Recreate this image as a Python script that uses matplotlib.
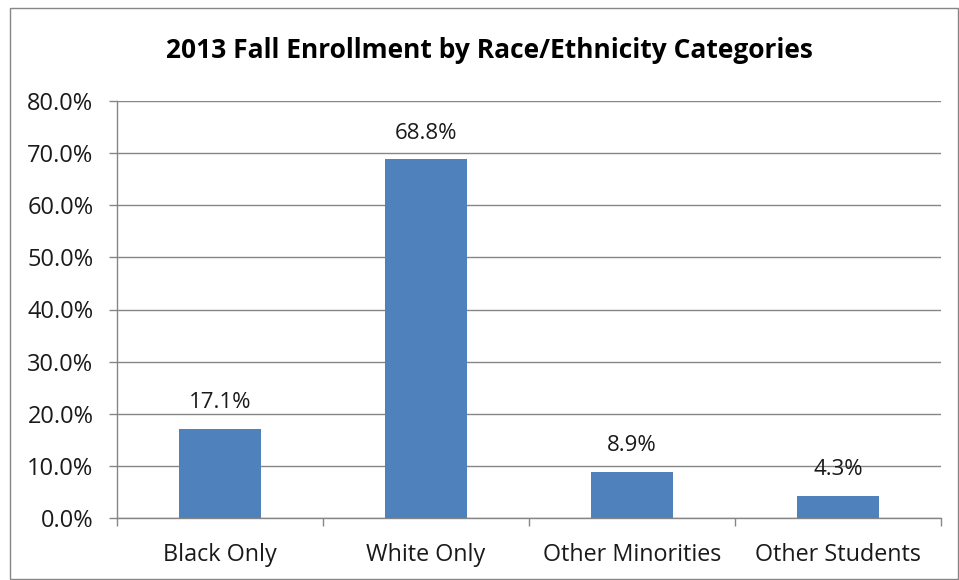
import matplotlib
matplotlib.use("Agg")
import matplotlib.pyplot as plt
from matplotlib.patches import Rectangle
from matplotlib.ticker import FuncFormatter, MultipleLocator

categories = ["Black Only", "White Only", "Other Minorities", "Other Students"]
values = [17.1, 68.8, 8.9, 4.3]
title = "2013 Fall Enrollment by Race/Ethnicity Categories"

plt.rcParams['font.family'] = ['Open Sans', 'DejaVu Sans']

W, H = 959, 580
fig = plt.figure(figsize=(W / 100, H / 100), dpi=100)
fig.patch.set_facecolor("white")

# outer chart border
fig.add_artist(Rectangle((10 / W, 1 - 579 / H), (958 - 10) / W, (579 - 8) / H,
                         transform=fig.transFigure, fill=False,
                         edgecolor="#868686", linewidth=1.0))

left, right, top, bottom = 117, 941, 101, 518
ax = fig.add_axes([left / W, 1 - bottom / H, (right - left) / W, (bottom - top) / H])

x = range(len(categories))
ax.bar(x, values, width=0.4, color="#4F81BD", zorder=3)
for xi, v in zip(x, values):
    ax.text(xi, v + 3.0, f"{v:.1f}%", ha="center", va="bottom", fontsize=16, color="#1a1a1a")

ax.set_xlim(-0.5, len(categories) - 0.5)
ax.set_ylim(0, 80)
ax.yaxis.set_major_locator(MultipleLocator(10))
ax.yaxis.set_major_formatter(FuncFormatter(lambda v, p: f"{v:.1f}%"))
ax.grid(axis="y", color="#868686", linewidth=1.0, zorder=0)

ax.set_xticks(list(x))
ax.set_xticklabels(categories, fontsize=16.8, color="#1a1a1a")
ax.set_xticks([i - 0.5 for i in range(len(categories) + 1)], minor=True)
ax.tick_params(axis="x", which="major", length=0, pad=18)
ax.tick_params(axis="x", which="minor", length=6, color="#868686", width=1.0)
ax.tick_params(axis="y", length=6, color="#868686", width=1.0, labelsize=17,
               labelcolor="#1a1a1a", pad=11)

for s in ["top", "right"]:
    ax.spines[s].set_visible(False)
for s in ["left", "bottom"]:
    ax.spines[s].set_color("#868686")
    ax.spines[s].set_linewidth(1.0)

fig.text(489 / W, 1 - 50 / H, title, ha="center", va="center",
         fontsize=19, fontweight="bold", color="black")

fig.savefig("out.png", dpi=100)
